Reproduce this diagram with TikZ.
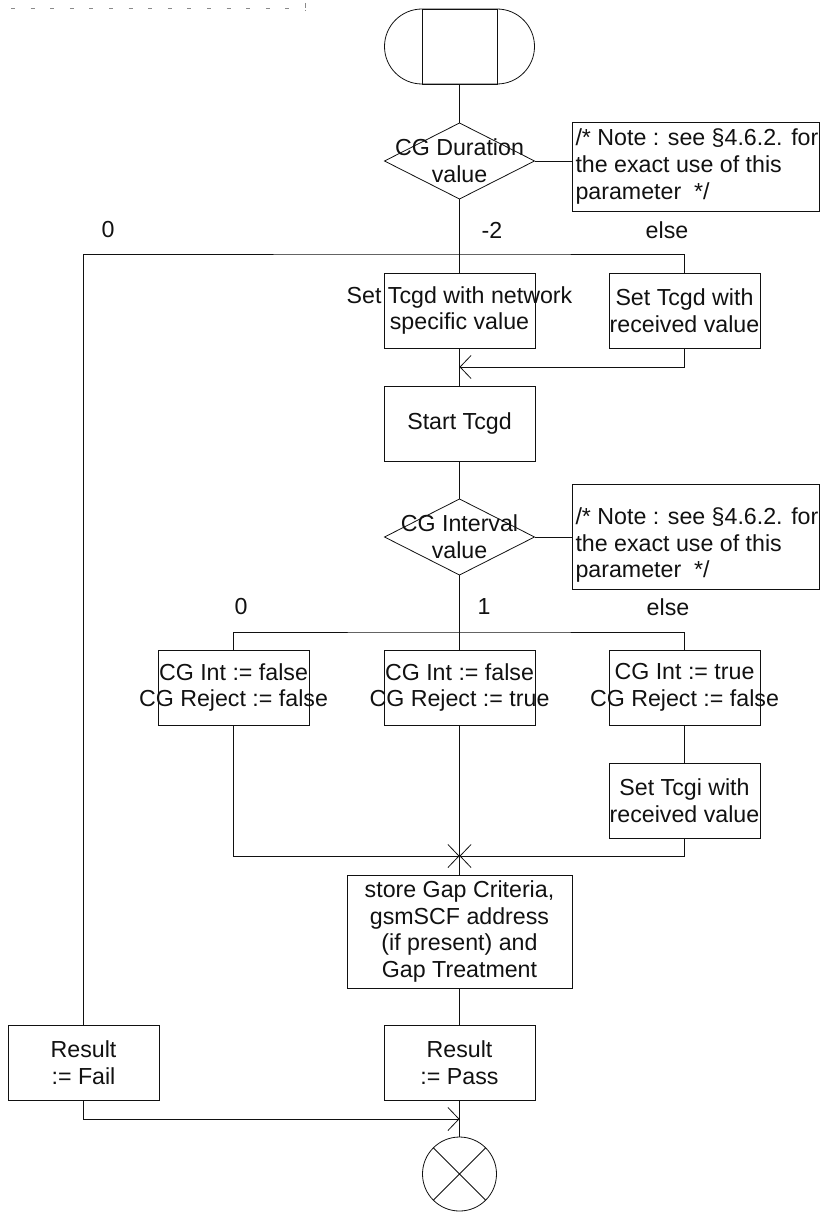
\documentclass[tikz,border=0pt]{standalone}
\usepackage{fontspec}
\setmainfont{Liberation Sans}
\usepackage{tikz}
\usetikzlibrary{arrows.meta,positioning,shapes.geometric,shapes.misc}
\definecolor{ink}{HTML}{111111}
\definecolor{pagegray}{HTML}{8A8A8A}
\newcommand\zw[1]{\makebox[0pt]{#1}}
\tikzset{
  >={Straight Barb[length=11pt,width=23pt]},
  every node/.style={font=\fontsize{23.2pt}{26.7pt}\selectfont,text=ink,inner sep=0pt,outer sep=0pt},
  flow/.style={draw=ink,line width=0.8pt},
  proc/.style={rectangle,draw=ink,line width=0.8pt,minimum width=151pt,minimum height=75pt,align=center},
  decision/.style={diamond,draw=ink,line width=0.8pt,minimum width=150pt,minimum height=76pt},
  dtext/.style={align=center},
  notebox/.style={rectangle,draw=ink,line width=0.8pt,minimum width=247pt},
  notetext/.style={align=left},
  startsym/.style={rounded rectangle,draw=ink,line width=0.8pt,minimum width=150pt,minimum height=75pt},
  stopsym/.style={circle,draw=ink,line width=0.8pt,minimum size=74pt,
    path picture={\draw[line width=0.8pt,ink] (path picture bounding box.north west) -- (path picture bounding box.south east)
      (path picture bounding box.north east) -- (path picture bounding box.south west);}},
  pagemark/.style={draw=pagegray,line width=0.8pt}
}

\begin{document}
\begin{tikzpicture}[x=1pt,y=-1pt]
  \useasboundingbox (0,0) rectangle (820,1212);
  % page edge marks
  \draw[pagemark,dash pattern=on 4pt off 15.6pt] (11,8.5) -- (300,8.5);
  \draw[pagemark,dash pattern=on 5pt off 2pt on 1.5pt off 9pt] (305,3) -- (305,12);

  \node[startsym] (start) at (459.5,46.5) {};
  \node[draw=ink,line width=0.8pt,minimum width=75pt,minimum height=75pt] (startin) at (start) {};

  \node[decision,below=39pt of start,label={[dtext]center:{\zw{CG Duration}\\\zw{value}}}] (dur) {};
  \node[notebox,minimum height=89pt,right=38pt of dur,yshift=-5.5pt] (note1) {};
  \node[notetext,right=3pt of note1.west] (note1txt) {/* Note : see \S4.6.2. for\\the exact use of this\\parameter~ */};

  \node[proc,below=74pt of dur] (setnet) {\zw{Set Tcgd with network}\\\zw{specific value}};
  \node[proc,right=74pt of setnet] (setrec) {Set Tcgd with\\received value};
  \node[proc,below=38pt of setnet] (tstart) {Start Tcgd};

  \node[decision,below=38pt of tstart,label={[dtext]center:{\zw{CG Interval}\\\zw{value}}}] (intv) {};
  \node[notebox,minimum height=105pt,right=38pt of intv] (note2) {};
  \node[notetext,right=3pt of note2.west,yshift=-8pt] (note2txt) {/* Note : see \S4.6.2. for\\the exact use of this\\parameter~ */};

  \node[proc,below=75pt of intv] (cgmid) {\zw{CG Int := false}\\\zw{CG Reject := true}};
  \node[proc,left=75pt of cgmid] (cgleft) {\zw{CG Int := false}\\\zw{CG Reject := false}};
  \node[proc,right=74pt of cgmid] (cgright) {\zw{CG Int := true}\\\zw{CG Reject := false}};
  \node[proc,below=38pt of cgright] (settcgi) {Set Tcgi with\\received value};

  \node[proc,minimum width=225pt,minimum height=113pt,below=150pt of cgmid] (store) {store Gap Criteria,\\gsmSCF address\\(if present) and\\Gap Treatment};
  \node[proc,below=37pt of store] (pass) {Result\\:= Pass};
  \node[proc,left=225pt of pass] (fail) {Result\\:= Fail};
  \node[stopsym,below=37pt of pass] (stop) {};

  % decision answers
  \node (dur0) at (108,230) {0};
  \node (durm2) at (492,230) {-2};
  \node (durelse) at (667,230) {else};
  \node (intv0) at (241,607) {0};
  \node (intv1) at (484,607) {1};
  \node (intvelse) at (668,607) {else};

  \coordinate (br1) at ([yshift=19pt]setnet.north);
  \coordinate (join1) at ([yshift=-19pt]setnet.south);
  \coordinate (br2) at ([yshift=18pt]cgmid.north);
  \coordinate (join2) at ([yshift=19pt]store.north);
  \coordinate (join3) at ([yshift=-19pt]pass.south);

  \draw[flow] (start) -- (dur);
  \draw[flow] (dur.east) -- (dur.east -| note1.west);
  \draw[flow] (dur) -- (setnet);
  \draw[flow] (fail.north) |- (br1) -| (setrec.north);
  \draw[flow,->] (setrec.south) |- (join1);
  \draw[flow] (setnet) -- (tstart);
  \draw[flow] (tstart) -- (intv);
  \draw[flow] (intv.east) -- (intv.east -| note2.west);
  \draw[flow] (intv) -- (cgmid);
  \draw[flow] (cgleft.north) |- (br2) -| (cgright.north);
  \draw[flow] (cgright) -- (settcgi);
  \draw[flow,->] (cgleft.south) |- (join2);
  \draw[flow,->] (settcgi.south) |- (join2);
  \draw[flow] (cgmid) -- (store);
  \draw[flow] (store) -- (pass);
  \draw[flow,->] (fail.south) |- (join3);
  \draw[flow] (pass) -- (stop);
\end{tikzpicture}
\end{document}
